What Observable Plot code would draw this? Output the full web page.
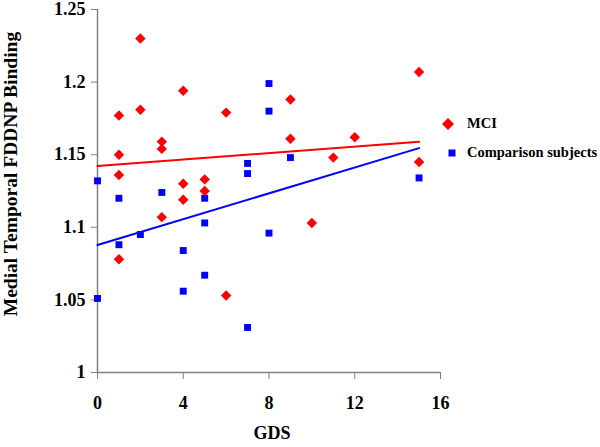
<!DOCTYPE html>
<html>
<head>
<meta charset="utf-8">
<script src="https://cdn.jsdelivr.net/npm/d3@7"></script>
<script src="https://cdn.jsdelivr.net/npm/@observablehq/plot@0.6"></script>
<style>
  html, body { margin: 0; padding: 0; background: #fff; }
  #wrap { position: relative; width: 600px; height: 447px; font-family: "Liberation Serif", "Times New Roman", serif; font-weight: bold; }
  #wrap svg { overflow: visible; }
  #legend { position: absolute; left: 440px; top: 112px; font-size: 14.5px; color: #000; }
  .item { position: absolute; left: 0; white-space: nowrap; height: 20px; line-height: 20px; }
  .item svg { position: absolute; left: 0; top: 0; }
  .item span { position: absolute; left: 27px; top: 0; }
</style>
</head>
<body>
<div id="wrap"><div id="legend"></div></div>
<script>
// ---- Data ----
const seriesNames = ["MCI", "Comparison subjects"];
const seriesColors = ["#ff0000", "#0000ff"];

const mciGDS    = [2, 1, 2, 4, 3, 3, 1, 1, 4, 4, 5, 5, 6, 9, 9, 3, 1, 6, 15, 12, 11, 15, 10];
const mciFDDNP  = [1.230, 1.177, 1.181, 1.194, 1.159, 1.154, 1.150, 1.136, 1.130, 1.119, 1.133, 1.125,
                   1.179, 1.188, 1.161, 1.107, 1.078, 1.053, 1.207, 1.162, 1.148, 1.145, 1.103];

const compGDS   = [0, 1, 3, 5, 5, 7, 7, 8, 8, 9, 1, 2, 4, 4, 5, 0, 7, 8, 15];
const compFDDNP = [1.132, 1.120, 1.124, 1.120, 1.103, 1.144, 1.137, 1.199, 1.180, 1.148, 1.088, 1.095,
                   1.084, 1.056, 1.067, 1.051, 1.031, 1.096, 1.134];

// x-range over which each linear trend line is drawn (as in the reference)
const trendRange = [0, 15];

const xTicks = [0, 4, 8, 12, 16];
const xTickLabels = ["0", "4", "8", "12", "16"];
const yTicks = [1, 1.05, 1.1, 1.15, 1.2, 1.25];
const yTickLabels = ["1", "1.05", "1.1", "1.15", "1.2", "1.25"];

const xTitle = "GDS";
const yTitle = "Medial Temporal FDDNP Binding";

// ---- Build tables ----
const mci = mciGDS.map((g, i) => ({gds: g, fddnp: mciFDDNP[i]}));
const comp = compGDS.map((g, i) => ({gds: g, fddnp: compFDDNP[i]}));

// least-squares linear trend computed from the data
function trend(xs, ys) {
  const mx = d3.mean(xs), my = d3.mean(ys);
  const sxy = d3.sum(xs, (x, i) => (x - mx) * (ys[i] - my));
  const sxx = d3.sum(xs, x => (x - mx) * (x - mx));
  const b = sxy / sxx, a = my - b * mx;
  return trendRange.map(x => ({gds: x, fddnp: a + b * x}));
}
const mciTrend = trend(mciGDS, mciFDDNP);
const compTrend = trend(compGDS, compFDDNP);

const grey = "#808080";
const font = '"Liberation Serif", "Times New Roman", serif';

const chart = Plot.plot({
  width: 600,
  height: 447,
  marginLeft: 97,
  marginRight: 160,
  marginTop: 9,
  marginBottom: 75,
  style: {fontFamily: font, fontWeight: "bold", fontSize: "18px", background: "#fff", color: "#000", overflow: "visible"},
  x: {domain: [0, 16]},
  y: {domain: [1, 1.25]},
  marks: [
    Plot.axisX({ticks: xTicks, tickFormat: d => xTickLabels[xTicks.indexOf(d)], tickSize: 7, tickPadding: 17,
                stroke: grey, fill: "#000", label: null, fontSize: 18}),
    Plot.axisY({ticks: yTicks, tickFormat: d => yTickLabels[yTicks.findIndex(t => Math.abs(t - d) < 1e-9)],
                tickSize: 6, tickPadding: 6, stroke: grey, fill: "#000", label: null, fontSize: 18}),
    Plot.ruleX([0], {stroke: grey, strokeWidth: 1.5}),
    Plot.ruleY([1], {stroke: grey, strokeWidth: 1.5}),
    Plot.line(mciTrend, {x: "gds", y: "fddnp", stroke: seriesColors[0], strokeWidth: 2}),
    Plot.line(compTrend, {x: "gds", y: "fddnp", stroke: seriesColors[1], strokeWidth: 2}),
    Plot.dot(comp, {x: "gds", y: "fddnp", symbol: "square", r: 3.9, fill: seriesColors[1], stroke: null}),
    Plot.dot(mci, {x: "gds", y: "fddnp", symbol: "diamond2", r: 4.7, fill: seriesColors[0], stroke: null}),
    Plot.text([xTitle], {frameAnchor: "bottom", dy: 66, dx: 3, fontSize: 18, fontWeight: "bold", fill: "#000"}),
    Plot.text([yTitle], {frameAnchor: "left", textAnchor: "middle", rotate: -90, dx: -87, dy: -17,
                         fontSize: 19.5, fontWeight: "bold", fill: "#000"})
  ]
});

const wrap = document.getElementById("wrap");
wrap.insertBefore(chart, wrap.firstChild);

// ---- Legend ----
const legend = document.getElementById("legend");
const sym = [
  '<svg width="20" height="20"><path d="M8,5 L14,11 L8,17 L2,11 Z" fill="' + seriesColors[0] + '"/></svg>',
  '<svg width="20" height="20"><rect x="8.5" y="7.5" width="7" height="7" fill="' + seriesColors[1] + '"/></svg>'
];
const tops = [1, 30];
seriesNames.forEach((name, i) => {
  const d = document.createElement("div");
  d.className = "item";
  d.style.top = tops[i] + "px";
  d.innerHTML = sym[i] + "<span>" + name + "</span>";
  legend.appendChild(d);
});
</script>
</body>
</html>
